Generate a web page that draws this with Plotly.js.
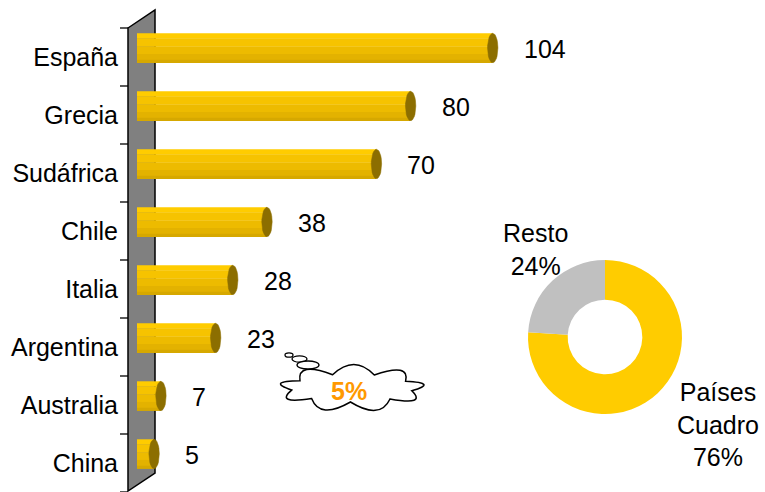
<!DOCTYPE html>
<html>
<head>
<meta charset="utf-8">
<script src="https://cdn.plot.ly/plotly-3.0.1.min.js"></script>
<style>html,body{margin:0;padding:0;background:#fff;}#chart{width:765px;height:492px;}</style>
</head>
<body>
<div id="chart"></div>
<script>
// ---- data ----
const categories = ['España', 'Grecia', 'Sudáfrica', 'Chile', 'Italia', 'Argentina', 'Australia', 'China'];
const values = [104, 80, 70, 38, 28, 23, 7, 5];
const valueLabels = ['104', '80', '70', '38', '28', '23', '7', '5'];
const pieLabels = ['Países Cuadro', 'Resto'];
const pieValues = [76, 24];
const pieTexts = ['Países<br>Cuadro<br>76%', 'Resto<br>24%'];
const cloudText = '5%';

// ---- geometry helpers ----
const W = 765, H = 492;
const X0 = 137;            // pixel where value 0 sits
const XMAX = 183.6;
const pxPerUnit = (W - X0) / XMAX;
const TOP = 28;            // pixel of the top category boundary
const catPx = 58;
const px = x => x / W;
const py = y => 1 - y / H;
const FONT = '"Liberation Sans", Arial, sans-serif';

const barHU = 29.4 / catPx;        // bar thickness in category units
const shiftU = -9 / catPx;         // bars sit a bit above the category centre
const o0 = shiftU - barHU / 2;
const stripes = [
  {f: 0.17, c: '#FFCC00'},
  {f: 0.28, c: '#F6C300'},
  {f: 0.25, c: '#EDBB00'},
  {f: 0.20, c: '#E3B200'},
  {f: 0.10, c: '#D6A800'}
];

const traces = [];
let cum = 0;
stripes.forEach(s => {
  traces.push({
    type: 'bar', orientation: 'h',
    x: values, y: categories,
    xaxis: 'x', yaxis: 'y',
    width: barHU * s.f + 0.004,
    offset: o0 + cum * barHU,
    marker: {color: s.c, line: {width: 0}},
    hoverinfo: 'skip', showlegend: false
  });
  cum += s.f;
});

// end caps (dark ellipses at the end of each bar)
const capRx = 5.2 / pxPerUnit, capRy = 14.7 / catPx;
values.forEach((v, i) => {
  const xs = [], ys = [];
  for (let k = 0; k <= 32; k++) {
    const t = 2 * Math.PI * k / 32;
    xs.push(v + capRx * Math.cos(t));
    ys.push(i + shiftU + capRy * Math.sin(t));
  }
  traces.push({
    type: 'scatter', mode: 'lines', x: xs, y: ys,
    xaxis: 'x', yaxis: 'y2', fill: 'toself',
    fillcolor: '#8C6E00', line: {color: '#8C6E00', width: 0.5},
    hoverinfo: 'skip', showlegend: false
  });
});

// donut
traces.push({
  type: 'pie', labels: pieLabels, values: pieValues,
  hole: 0.485, sort: false, direction: 'counterclockwise', rotation: 0,
  marker: {colors: ['#FFCC00', '#C0C0C0'], line: {width: 0}},
  textinfo: 'none', hoverinfo: 'skip', showlegend: false,
  domain: {x: [px(605 - 77), px(605 + 77)], y: [py(414), py(260)]}
});

// ---- shapes ----
const shapes = [];
// grey wall
shapes.push({
  type: 'path', xref: 'paper', yref: 'paper', layer: 'below',
  path: `M${px(128)},${py(28)} L${px(155)},${py(10)} L${px(155)},${py(473)} L${px(128)},${py(491)} Z`,
  fillcolor: '#808080', line: {color: '#000', width: 1.5}
});
// category boundary ticks
for (let k = 0; k <= categories.length; k++) {
  const yy = TOP + k * catPx;
  shapes.push({
    type: 'line', xref: 'paper', yref: 'paper', layer: 'above',
    x0: px(120), x1: px(128), y0: py(yy), y1: py(yy),
    line: {color: '#000', width: 1.3}
  });
}

// cloud
(function () {
  const cx = 352, cy = 388, N = 9;
  let d = '';
  for (let k = 0; k < N; k++) {
    const a0 = 2 * Math.PI * k / N + 0.2, a1 = 2 * Math.PI * (k + 1) / N + 0.2, am = (a0 + a1) / 2;
    const p0 = [cx + 61 * Math.cos(a0), cy + 14 * Math.sin(a0)];
    const p1 = [cx + 61 * Math.cos(a1), cy + 14 * Math.sin(a1)];
    const c = [cx + 88 * Math.cos(am), cy + 34 * Math.sin(am)];
    if (k === 0) d += `M${px(p0[0])},${py(p0[1])} `;
    d += `Q${px(c[0])},${py(c[1])} ${px(p1[0])},${py(p1[1])} `;
  }
  d += 'Z';
  shapes.push({type: 'path', xref: 'paper', yref: 'paper', layer: 'above',
    path: d, fillcolor: '#fff', line: {color: '#000', width: 1.5}});
  const bubbles = [[289, 355, 4, 2.2], [299.5, 359, 7.5, 3.2], [308, 365, 11, 4]];
  bubbles.forEach(b => shapes.push({
    type: 'circle', xref: 'paper', yref: 'paper', layer: 'above',
    x0: px(b[0] - b[2]), x1: px(b[0] + b[2]), y0: py(b[1] + b[3]), y1: py(b[1] - b[3]),
    fillcolor: '#fff', line: {color: '#000', width: 1.3}
  }));
})();

// ---- annotations ----
const annotations = values.map((v, i) => ({
  xref: 'x', yref: 'y', x: v, y: categories[i],
  text: valueLabels[i], showarrow: false,
  xanchor: 'left', yanchor: 'middle', xshift: 29, yshift: 8,
  font: {family: FONT, size: 25, color: '#000'}
}));
annotations.push({
  xref: 'paper', yref: 'paper', x: px(718), y: py(424),
  text: pieTexts[0], showarrow: false, xanchor: 'center', yanchor: 'middle',
  font: {family: FONT, size: 25, color: '#000'}
});
annotations.push({
  xref: 'paper', yref: 'paper', x: px(535), y: py(249),
  text: pieTexts[1], showarrow: false, xanchor: 'center', yanchor: 'middle',
  font: {family: FONT, size: 25, color: '#000'}
});
annotations.push({
  xref: 'paper', yref: 'paper', x: px(349), y: py(391),
  text: '<b>' + cloudText + '</b>', showarrow: false, xanchor: 'center', yanchor: 'middle',
  font: {family: FONT, size: 25, color: '#FF9900'}
});

const layout = {
  width: W, height: H,
  margin: {l: 0, r: 0, t: 0, b: 0, pad: 0},
  paper_bgcolor: '#fff', plot_bgcolor: 'rgba(0,0,0,0)',
  showlegend: false, barmode: 'overlay',
  font: {family: FONT, color: '#000'},
  xaxis: {domain: [X0 / W, 1], range: [0, XMAX], visible: false, fixedrange: true},
  yaxis: {
    type: 'category', categoryorder: 'array', categoryarray: categories,
    range: [7.5, -0.5], domain: [0, py(TOP)],
    anchor: 'free', position: px(128),
    showline: false, showgrid: false, zeroline: false,
    ticks: '', ticklabelstandoff: 10,
    tickfont: {family: FONT, size: 25, color: '#000'}, fixedrange: true
  },
  yaxis2: {
    type: 'linear', overlaying: 'y', range: [7.5, -0.5],
    anchor: 'free', position: px(128), visible: false, fixedrange: true
  },
  shapes: shapes,
  annotations: annotations
};

Plotly.newPlot('chart', traces, layout, {displayModeBar: false, staticPlot: true});
</script>
</body>
</html>
